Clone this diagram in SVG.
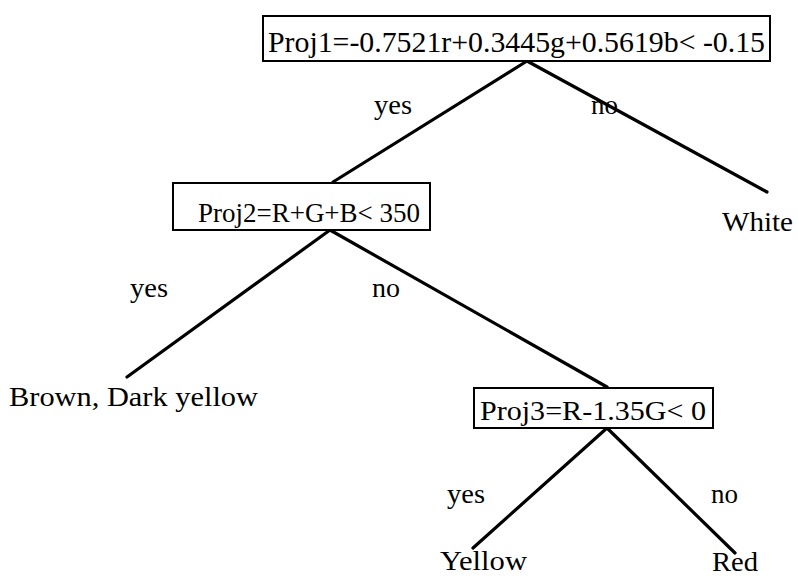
<svg xmlns="http://www.w3.org/2000/svg" width="798" height="578" viewBox="0 0 798 578">
<style>
.box{fill:#fff;stroke:#000;stroke-width:2}
.edge{stroke:#000;stroke-width:3.2;stroke-linecap:round;fill:none}
text{font-family:"Liberation Serif","Times New Roman",serif;font-size:28px;fill:#000}
.big{font-size:30px}
</style>
<rect width="798" height="578" fill="#fff"/>
<g id="connectors">
<line class="edge" x1="527" y1="61" x2="333" y2="182"/>
<line class="edge" x1="527" y1="61" x2="767" y2="192"/>
<line class="edge" x1="330" y1="230" x2="127" y2="377"/>
<line class="edge" x1="330" y1="230" x2="607" y2="387"/>
<line class="edge" x1="607" y1="428" x2="473" y2="548"/>
<line class="edge" x1="607" y1="428" x2="735" y2="553"/>
<text x="374" y="114" textLength="38" lengthAdjust="spacingAndGlyphs">yes</text>
<text x="591" y="114" textLength="27" lengthAdjust="spacingAndGlyphs">no</text>
<text x="130" y="297" textLength="38" lengthAdjust="spacingAndGlyphs">yes</text>
<text x="372" y="297" textLength="28" lengthAdjust="spacingAndGlyphs">no</text>
<text x="447" y="503" textLength="38" lengthAdjust="spacingAndGlyphs">yes</text>
<text x="711" y="503" textLength="27" lengthAdjust="spacingAndGlyphs">no</text>
</g>
<g id="proj1">
<rect class="box" x="263" y="16" width="507" height="45"/>
<text class="big" x="268" y="52" textLength="497" lengthAdjust="spacingAndGlyphs">Proj1=-0.7521r+0.3445g+0.5619b&lt; -0.15</text>
</g>
<g id="proj2">
<rect class="box" x="173" y="183" width="257" height="47"/>
<text x="198" y="222" textLength="222" lengthAdjust="spacingAndGlyphs">Proj2=R+G+B&lt; 350</text>
</g>
<g id="proj3">
<rect class="box" x="474" y="388" width="239" height="40"/>
<text x="480" y="420" textLength="226" lengthAdjust="spacingAndGlyphs">Proj3=R-1.35G&lt; 0</text>
</g>
<g id="white"><text x="722" y="231" textLength="71" lengthAdjust="spacingAndGlyphs">White</text></g>
<g id="brown"><text x="9" y="406" textLength="249" lengthAdjust="spacingAndGlyphs">Brown, Dark yellow</text></g>
<g id="yellow"><text x="440" y="570" textLength="87" lengthAdjust="spacingAndGlyphs">Yellow</text></g>
<g id="red"><text x="712" y="571" textLength="46" lengthAdjust="spacingAndGlyphs">Red</text></g>
</svg>
